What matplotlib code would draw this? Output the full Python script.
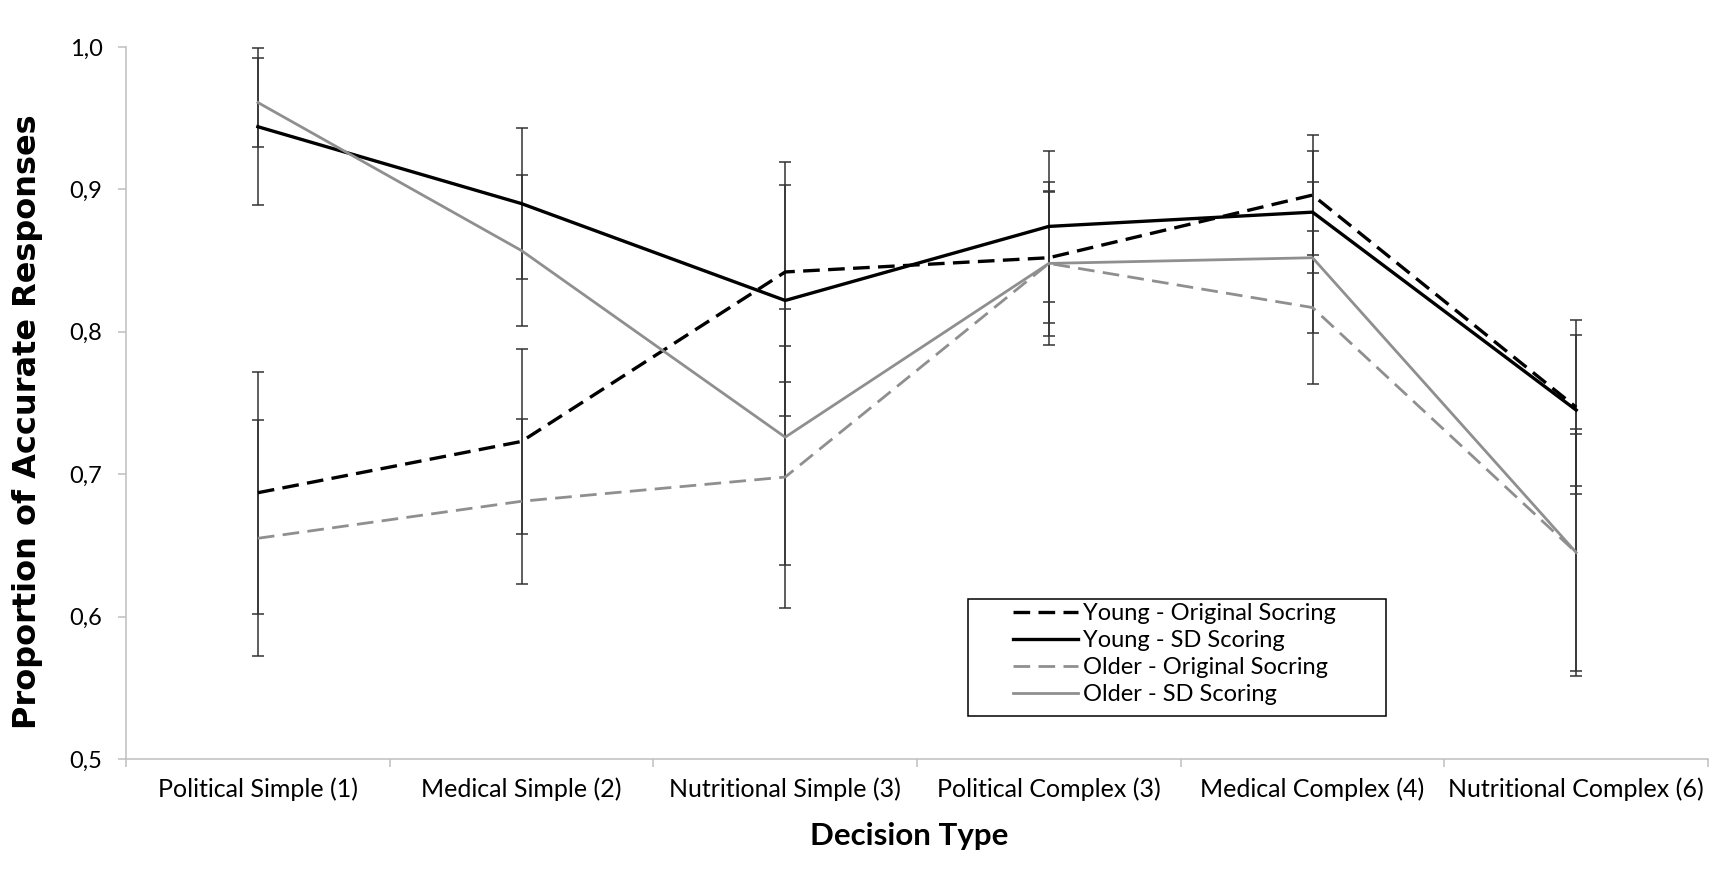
import matplotlib.pyplot as plt
from matplotlib.patches import Rectangle
from matplotlib.ticker import FuncFormatter, FixedLocator

categories = ["Political Simple (1)", "Medical Simple (2)", "Nutritional Simple (3)",
              "Political Complex (3)", "Medical Complex (4)", "Nutritional Complex (6)"]

young_orig = [0.687, 0.723, 0.842, 0.852, 0.896, 0.747]
young_orig_err = [0.085, 0.065, 0.077, 0.046, 0.042, 0.061]
young_sd = [0.944, 0.890, 0.822, 0.874, 0.884, 0.745]
young_sd_err = [0.055, 0.053, 0.081, 0.053, 0.043, 0.053]
older_orig = [0.655, 0.681, 0.698, 0.848, 0.817, 0.645]
older_orig_err = [0.083, 0.058, 0.092, 0.057, 0.054, 0.087]
older_sd = [0.961, 0.857, 0.726, 0.848, 0.852, 0.645]
older_sd_err = [0.031, 0.053, 0.090, 0.051, 0.053, 0.083]

labels = ["Young - Original Socring", "Young - SD Scoring",
          "Older - Original Socring", "Older - SD Scoring"]

font = "Lato"
gray = "#8f8f8f"
axis_gray = "#bfbfbf"

fig = plt.figure(figsize=(17.36, 8.86), dpi=100)
ax = fig.add_axes([0.0726, 0.1433, 0.9113, 0.8037])

x = list(range(len(categories)))

series = [
    (young_orig, young_orig_err, "black", 2.4, (0, (5.0, 2.5))),
    (young_sd, young_sd_err, "black", 2.4, "-"),
    (older_orig, older_orig_err, gray, 2.0, (0, (6, 3))),
    (older_sd, older_sd_err, gray, 2.0, "-"),
]

# error bars first, lines on top
for vals, err, c, lw, ls in series:
    ax.errorbar(x, vals, yerr=err, fmt="none", ecolor="#333333",
                elinewidth=1.1, capsize=4, capthick=1.1, zorder=2)

handles = []
for (vals, err, c, lw, ls), lab in zip(series, labels):
    h, = ax.plot(x, vals, color=c, lw=lw, linestyle=ls, label=lab, zorder=3)
    handles.append(h)

ax.set_ylim(0.5, 1.0)
ax.set_xlim(-0.5, len(categories) - 0.5)
ax.set_yticks([0.5, 0.6, 0.7, 0.8, 0.9, 1.0])
ax.yaxis.set_major_formatter(FuncFormatter(lambda v, p: f"{v:.1f}".replace(".", ",")))

ax.set_xticks(x)
ax.set_xticklabels(categories, fontsize=18, family=font)
ax.xaxis.set_minor_locator(FixedLocator([i - 0.5 for i in range(len(categories) + 1)]))
ax.tick_params(axis="x", which="major", length=0, pad=13)
ax.tick_params(axis="x", which="minor", length=6, width=1.1, color=axis_gray, direction="out")
ax.tick_params(axis="y", length=6, width=1.1, color=axis_gray, pad=11, labelsize=17)
for t in ax.get_yticklabels():
    t.set_family(font)

for s in ["top", "right"]:
    ax.spines[s].set_visible(False)
for s in ["left", "bottom"]:
    ax.spines[s].set_color(axis_gray)
    ax.spines[s].set_linewidth(1.1)

ax.set_ylabel("Proportion of Accurate Responses", fontsize=23, fontweight="bold",
              family="DejaVu Sans")
ax.yaxis.set_label_coords(-0.0525, 0.474)
ax.set_xlabel("Decision Type", fontsize=22.5, fontweight="bold", family=font)
ax.xaxis.set_label_coords(0.495, -0.088)

# legend box
ax.add_patch(Rectangle((0.532, 0.0604), 0.2645, 0.1643, transform=ax.transAxes,
                       facecolor="white", edgecolor="black", lw=1.1, zorder=4))
leg = ax.legend(handles=handles, loc="upper left", bbox_to_anchor=(0.5607, 0.2185),
                frameon=False, borderpad=0, borderaxespad=0, handlelength=2.75,
                handletextpad=0.22, labelspacing=0.25, prop={"family": font, "size": 17})
leg.set_zorder(5)

fig.savefig("out.png", dpi=100)
